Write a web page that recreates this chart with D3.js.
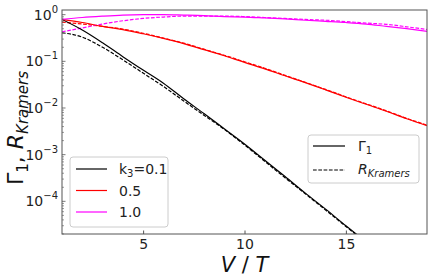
<!DOCTYPE html>
<html>
<head>
  <script src="https://d3js.org/d3.v7.min.js"></script>
  <style>
    body { margin: 0; background: #fff; }
    svg { font-family: "DejaVu Sans", sans-serif; }
    .line { fill: none; stroke-width: 1.2px; }
    .dash { stroke-dasharray: 3.7, 1.6; }
  </style>
</head>
<body>
  <svg width="436" height="278"></svg>
  <script>
    // V/T values
    var vt = [1, 2, 3, 4, 5, 6, 7, 8, 9, 10, 11, 12, 13, 14, 15, 16, 17, 18, 19];

    // k3 = 0.1
    var gamma01 = [0.79, 0.47, 0.25, 0.126, 0.065, 0.034, 0.0158, 0.0076, 0.0036, 0.0017,
      7.6e-4, 3.4e-4, 1.5e-4, 6.8e-5, 3.0e-5, 1.35e-5, 6.0e-6, 2.7e-6, 1.2e-6];
    var kramers01 = [0.41, 0.33, 0.20, 0.108, 0.056, 0.029, 0.0142, 0.0070, 0.0035, 0.00162,
      7.2e-4, 3.2e-4, 1.45e-4, 6.5e-5, 2.9e-5, 1.3e-5, 5.8e-6, 2.6e-6, 1.15e-6];
    // k3 = 0.5
    var gamma05 = [0.79, 0.68, 0.56, 0.48, 0.39, 0.31, 0.24, 0.178, 0.132, 0.095,
      0.069, 0.049, 0.035, 0.0245, 0.017, 0.012, 0.0085, 0.0059, 0.0042];
    var kramers05 = [0.69, 0.63, 0.56, 0.49, 0.40, 0.315, 0.245, 0.182, 0.135, 0.098,
      0.071, 0.050, 0.0355, 0.025, 0.0174, 0.0123, 0.0087, 0.006, 0.0043];
    // k3 = 1.0
    var gamma10 = [0.79, 0.87, 0.93, 0.98, 1.0, 1.0, 0.98, 0.955, 0.91, 0.89,
      0.85, 0.81, 0.76, 0.72, 0.68, 0.63, 0.56, 0.50, 0.44];
    var kramers10 = [0.43, 0.52, 0.63, 0.74, 0.83, 0.89, 0.93, 0.93, 0.93, 0.91,
      0.87, 0.83, 0.79, 0.76, 0.71, 0.66, 0.62, 0.55, 0.48];

    var kLabels = ["k3=0.1", "0.5", "1.0"];
    var colors = ["#000000", "#ff0000", "#ff00ff"];
    var xTicks = [5, 10, 15];
    var yTicks = [1e-4, 1e-3, 1e-2, 1e-1, 1];

    var svg = d3.select("svg"),
      margin = {top: 10, right: 9, bottom: 44, left: 62},
      width = +svg.attr("width") - margin.left - margin.right,
      height = +svg.attr("height") - margin.top - margin.bottom;

    var x = d3.scaleLinear().domain([1, 19]).range([0, width]);
    var y = d3.scaleLog().domain([1.995e-5, 1.259]).range([height, 0]);

    svg.append("defs").append("clipPath")
      .attr("id", "clip")
      .append("rect")
      .attr("width", width)
      .attr("height", height);

    var g = svg.append("g")
      .attr("transform", "translate(" + margin.left + "," + margin.top + ")");

    var plot = g.append("g").attr("clip-path", "url(#clip)");

    var line = function(vals) {
      return d3.line()
        .x(function(d, i) { return x(vt[i]); })
        .y(function(d) { return y(d); })
        .curve(d3.curveMonotoneX)(vals);
    };

    var series = [
      {vals: kramers01, c: 0, dash: true},
      {vals: kramers05, c: 1, dash: true},
      {vals: kramers10, c: 2, dash: true},
      {vals: gamma01, c: 0, dash: false},
      {vals: gamma05, c: 1, dash: false},
      {vals: gamma10, c: 2, dash: false}
    ];

    series.forEach(function(s) {
      plot.append("path")
        .attr("class", s.dash ? "line dash" : "line")
        .attr("stroke", colors[s.c])
        .attr("d", line(s.vals));
    });

    // x axis
    var xAxis = d3.axisBottom(x).tickValues(xTicks).tickSizeInner(-3.5).tickSizeOuter(0).tickPadding(5);
    var gx = g.append("g")
      .attr("transform", "translate(0," + height + ")")
      .call(xAxis);
    gx.selectAll("text").attr("font-size", 14).attr("fill", "#222").attr("font-family", "DejaVu Sans");
    gx.selectAll("line").attr("stroke", "#555");
    gx.select(".domain").remove();

    // y axis: major and minor ticks pointing in
    var minor = [];
    for (var e = -5; e <= 0; e++) {
      for (var m = 2; m <= 9; m++) {
        var v = m * Math.pow(10, e);
        if (v > y.domain()[0] && v < y.domain()[1]) minor.push(v);
      }
    }
    g.selectAll(".ymin").data(minor).enter().append("line")
      .attr("x1", 0).attr("x2", 2)
      .attr("y1", function(d) { return y(d); })
      .attr("y2", function(d) { return y(d); })
      .attr("stroke", "#555").attr("stroke-width", 0.6);
    g.selectAll(".ymaj").data(yTicks).enter().append("line")
      .attr("x1", 0).attr("x2", 3.5)
      .attr("y1", function(d) { return y(d); })
      .attr("y2", function(d) { return y(d); })
      .attr("stroke", "#555").attr("stroke-width", 0.8);

    var ylab = g.selectAll(".ylab").data(yTicks).enter().append("text")
      .attr("x", -4)
      .attr("y", function(d) { return y(d) + 5; })
      .attr("text-anchor", "end")
      .attr("font-size", 14)
      .attr("fill", "#222");
    ylab.append("tspan").text("10");
    ylab.append("tspan")
      .attr("dy", -7)
      .attr("font-size", 10)
      .text(function(d) { var p = Math.round(Math.log10(d)); return p < 0 ? "\u2212" + (-p) : p; });

    // frame
    g.append("rect")
      .attr("width", width)
      .attr("height", height)
      .attr("fill", "none")
      .attr("stroke", "#555")
      .attr("stroke-width", 1);

    // axis titles
    var xt = svg.append("text")
      .attr("x", margin.left + width / 2)
      .attr("y", 272)
      .attr("text-anchor", "middle")
      .attr("font-size", 21)
      .attr("fill", "#111");
    xt.append("tspan").attr("font-style", "italic").text("V");
    xt.append("tspan").text(" / ");
    xt.append("tspan").attr("font-style", "italic").text("T");

    var yt = svg.append("text")
      .attr("transform", "translate(23,128) rotate(-90)")
      .attr("text-anchor", "middle")
      .attr("font-size", 22)
      .attr("fill", "#111");
    yt.append("tspan").text("\u0393");
    yt.append("tspan").attr("font-size", 15).attr("dy", 5).text("1");
    yt.append("tspan").attr("dy", -5).text(", ");
    yt.append("tspan").attr("font-style", "italic").text("R");
    yt.append("tspan").attr("font-style", "italic").attr("font-size", 15).attr("dy", 5).text("Kramers");

    // legend: k3 values
    var leg1 = svg.append("g");
    leg1.append("rect")
      .attr("x", 70).attr("y", 157).attr("width", 98).attr("height", 70)
      .attr("rx", 3).attr("fill", "#fff").attr("fill-opacity", 0.8)
      .attr("stroke", "#ccc");
    kLabels.forEach(function(lbl, i) {
      var yy = 169 + i * 21.5;
      leg1.append("line")
        .attr("x1", 76).attr("x2", 107).attr("y1", yy).attr("y2", yy)
        .attr("stroke", colors[i]).attr("stroke-width", 1.2);
      var t = leg1.append("text")
        .attr("x", 119).attr("y", yy + 5)
        .attr("font-size", 14).attr("fill", "#222");
      if (i === 0) {
        t.append("tspan").text("k");
        t.append("tspan").attr("font-size", 10).attr("dy", 3).text("3");
        t.append("tspan").attr("dy", -3).text("=0.1");
      } else {
        t.text(lbl);
      }
    });

    // legend: line styles
    var leg2 = svg.append("g");
    leg2.append("rect")
      .attr("x", 308).attr("y", 135).attr("width", 111).attr("height", 48)
      .attr("rx", 3).attr("fill", "#fff").attr("fill-opacity", 0.8)
      .attr("stroke", "#ccc");
    leg2.append("line")
      .attr("x1", 313).attr("x2", 345).attr("y1", 146).attr("y2", 146)
      .attr("stroke", "#000").attr("stroke-width", 1.2);
    leg2.append("line")
      .attr("class", "dash")
      .attr("x1", 313).attr("x2", 345).attr("y1", 170).attr("y2", 170)
      .attr("stroke", "#000").attr("stroke-width", 1.2);
    var l2a = leg2.append("text").attr("x", 358).attr("y", 151).attr("font-size", 14).attr("fill", "#222");
    l2a.append("tspan").text("\u0393");
    l2a.append("tspan").attr("font-size", 10).attr("dy", 3).text("1");
    var l2b = leg2.append("text").attr("x", 358).attr("y", 174).attr("font-size", 14).attr("fill", "#222");
    l2b.append("tspan").attr("font-style", "italic").text("R");
    l2b.append("tspan").attr("font-style", "italic").attr("font-size", 10).attr("dy", 3).text("Kramers");
  </script>
</body>
</html>
